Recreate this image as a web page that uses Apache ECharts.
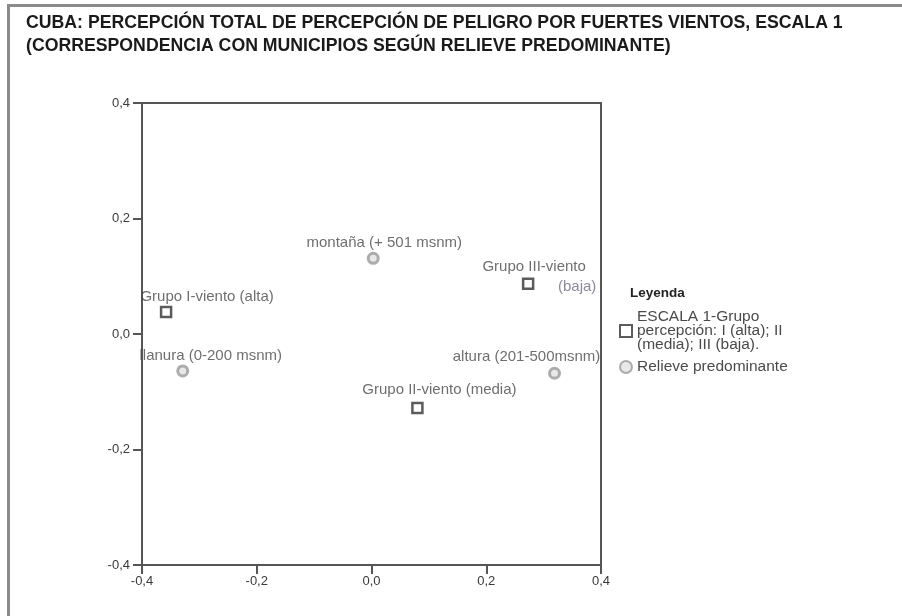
<!DOCTYPE html>
<html>
<head>
<meta charset="utf-8">
<script src="https://cdn.jsdelivr.net/npm/echarts@6/dist/echarts.min.js"></script>
<style>
  html, body { margin: 0; padding: 0; background: #fff; }
  #chart { width: 902px; height: 616px; }
</style>
</head>
<body>
<div id="chart"></div>
<script>
// Perception groups (squares) and predominant relief (circles): dimension 1 / dimension 2 scores
const groupNames = ['Grupo I-viento (alta)', 'Grupo II-viento (media)', 'Grupo III-viento (baja)'];
const groupDim1 = [-0.358, 0.080, 0.273];
const groupDim2 = [0.038, -0.128, 0.087];

const reliefNames = ['montaña (+ 501 msnm)', 'llanura (0-200 msnm)', 'altura (201-500msnm)'];
const reliefDim1 = [0.003, -0.329, 0.319];
const reliefDim2 = [0.131, -0.064, -0.068];

const axisTicks = [-0.4, -0.2, 0.0, 0.2, 0.4];

const groupSeriesName = 'ESCALA 1-Grupo\npercepción: I (alta); II\n(media); III (baja).';
const reliefSeriesName = 'Relieve predominante';

// label placement around each point (pixels from the point centre)
const groupLabelOffsets = [[41, -15], [22, -18], [6, -7]];
const reliefLabelOffsets = [[11, -15], [28, -15], [-28, -16]];

const FONT = 'Liberation Sans, Arial, sans-serif';
const LABEL_SIZE = 15;
const fmt = v => (Math.round(v * 10) / 10).toFixed(1).replace('.', ',');

function buildPoints(names, xs, ys, offsets) {
  return names.map((n, i) => ({
    name: n,
    value: [xs[i], ys[i]],
    label: { offset: offsets[i] }
  }));
}

const groupData = buildPoints(groupNames, groupDim1, groupDim2, groupLabelOffsets);
// third group label splits over two lines
groupData[2].label.formatter = '{a|Grupo III-viento}\n{b|(baja)}';
groupData[2].label.rich = {
  a: { fontSize: LABEL_SIZE, color: '#4a4a4a', fontFamily: FONT, lineHeight: 20 },
  b: { fontSize: LABEL_SIZE, color: '#6f6a86', fontFamily: FONT, lineHeight: 20, padding: [0, 0, 0, 86] }
};

const reliefData = buildPoints(reliefNames, reliefDim1, reliefDim2, reliefLabelOffsets);

const chart = echarts.init(document.getElementById('chart'), null, { renderer: 'canvas' });

const labelBase = {
  show: true,
  position: 'inside',
  formatter: p => p.name,
  fontSize: LABEL_SIZE,
  color: '#4a4a4a',
  fontFamily: FONT
};

const axisCommon = {
  type: 'value',
  min: axisTicks[0],
  max: axisTicks[axisTicks.length - 1],
  interval: 0.2,
  axisLine: { show: true, onZero: false, lineStyle: { color: '#555', width: 2 } },
  axisTick: { show: true, length: 9, lineStyle: { color: '#555', width: 2 } },
  splitLine: { show: false },
  axisLabel: { formatter: fmt, fontSize: 13, color: '#3a3a3a', fontFamily: FONT }
};

chart.setOption({
  animation: false,
  backgroundColor: '#fff',
  grid: {
    left: 142, right: 301, top: 103, bottom: 51,
    show: true, borderColor: '#555', borderWidth: 2, backgroundColor: 'transparent'
  },
  xAxis: Object.assign({}, axisCommon, { axisLabel: Object.assign({}, axisCommon.axisLabel, { margin: 10 }) }),
  yAxis: Object.assign({}, axisCommon, { axisLabel: Object.assign({}, axisCommon.axisLabel, { margin: 12 }) }),
  legend: {
    orient: 'vertical',
    left: 614,
    top: 304,
    itemWidth: 12,
    itemHeight: 12,
    itemGap: 6,
    textStyle: { fontSize: 15.5, color: '#4a4a4a', fontFamily: FONT, lineHeight: 14 },
    data: [groupSeriesName, reliefSeriesName]
  },
  series: [
    {
      name: groupSeriesName,
      type: 'scatter',
      symbol: 'rect',
      symbolSize: 10,
      itemStyle: { color: '#fff', borderColor: '#333', borderWidth: 2.5 },
      label: labelBase,
      data: groupData
    },
    {
      name: reliefSeriesName,
      type: 'scatter',
      symbol: 'circle',
      symbolSize: 10,
      itemStyle: { color: '#e2e2e2', borderColor: '#9a9a9a', borderWidth: 3 },
      label: labelBase,
      data: reliefData
    }
  ],
  title: {
    text: 'CUBA: PERCEPCIÓN TOTAL DE PERCEPCIÓN DE PELIGRO POR FUERTES VIENTOS, ESCALA 1\n(CORRESPONDENCIA CON MUNICIPIOS SEGÚN RELIEVE PREDOMINANTE)',
    left: 21,
    top: 7,
    textStyle: { fontSize: 17.7, fontWeight: 'bold', color: '#1a1a1a', fontFamily: FONT, lineHeight: 23 }
  },
  graphic: [
    // frame around the figure (top and left edges)
    { type: 'rect', shape: { x: 7, y: 4, width: 895, height: 3 }, style: { fill: '#8a8a8a' }, silent: true },
    { type: 'rect', shape: { x: 7, y: 4, width: 3, height: 612 }, style: { fill: '#8a8a8a' }, silent: true },
    {
      type: 'text', left: 630, top: 286, silent: true,
      style: { text: 'Leyenda', fontSize: 13.5, fontWeight: 'bold', fill: '#222', fontFamily: FONT }
    }
  ]
});
</script>
</body>
</html>
